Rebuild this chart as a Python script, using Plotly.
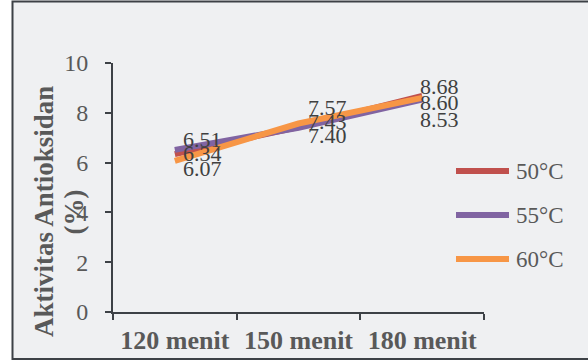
import plotly.graph_objects as go

# Extraction time categories and antioxidant activity (%) per drying temperature
categories = ["120 menit", "150 menit", "180 menit"]
series_names = ["50°C", "55°C", "60°C"]
values_50 = [6.34, 7.43, 8.68]
values_55 = [6.51, 7.40, 8.53]
values_60 = [6.07, 7.57, 8.60]
y_ticks = [0, 2, 4, 6, 8, 10]

series_values = [values_50, values_55, values_60]
colors = ["#c0504d", "#8064a2", "#f79646"]

# pixel geometry of the plotting area inside the 588x360 page
W, H = 588, 360
L, R, T, B = 113, 484, 63, 312
pw, ph = R - L, B - T


def px_x(px):
    return (px - L) / pw


def px_y(py):
    return (B - py) / ph


serif = "Liberation Serif"
tick_grey = "#595959"
label_grey = "#404040"
axis_dark = "#3d4146"

fig = go.Figure()
for name, vals, col in zip(series_names, series_values, colors):
    fig.add_trace(go.Scatter(
        x=categories, y=vals, mode="lines", name=name,
        line=dict(color=col, width=6), showlegend=False,
        hoverinfo="skip",
    ))

# value labels: per-category offsets (pixels) keep the stacked labels readable
label_shift = {
    (0, 0): (6, 1), (0, 1): (6, 10), (0, 2): (6, -8),
    (1, 0): (7, 5), (1, 1): (7, -8), (1, 2): (7, 16),
    (2, 0): (-4, 9), (2, 1): (-4, -20), (2, 2): (-4, -5),
}
annotations = []
for si, vals in enumerate(series_values):
    for ci, v in enumerate(vals):
        dx, dy = label_shift[(ci, si)]
        annotations.append(dict(
            x=categories[ci], y=v, xref="x", yref="y",
            text=f"{v:.2f}", showarrow=False,
            xanchor="left", yanchor="middle", xshift=dx, yshift=dy,
            font=dict(family=serif, size=22, color=label_grey),
        ))

# y-axis title, two rotated lines
annotations.append(dict(
    x=px_x(44), y=px_y(212), xref="paper", yref="paper",
    text="<b>Aktivitas Antioksidan</b>", textangle=-90, showarrow=False,
    xanchor="center", yanchor="middle",
    font=dict(family=serif, size=27, color=tick_grey),
))
annotations.append(dict(
    x=px_x(73.5), y=px_y(212), xref="paper", yref="paper",
    text="<b>(%)</b>", textangle=-90, showarrow=False,
    xanchor="center", yanchor="middle",
    font=dict(family=serif, size=27, color=tick_grey),
))

# chart frame and legend
shapes = [dict(
    type="rect", xref="paper", yref="paper",
    x0=px_x(12.5), x1=px_x(600), y0=px_y(359), y1=px_y(1.5),
    fillcolor="#eff0f2", line=dict(color=axis_dark, width=2), layer="below",
)]
legend_rows = [171, 215, 259]
for name, col, row in zip(series_names, colors, legend_rows):
    shapes.append(dict(
        type="line", xref="paper", yref="paper",
        x0=px_x(456), x1=px_x(509), y0=px_y(row), y1=px_y(row),
        line=dict(color=col, width=6),
    ))
    annotations.append(dict(
        x=px_x(514), y=px_y(row), xref="paper", yref="paper",
        text=name, showarrow=False, xanchor="left", yanchor="middle",
        font=dict(family=serif, size=23, color=tick_grey),
    ))

fig.update_layout(
    width=W, height=H,
    margin=dict(l=L, r=W - R, t=T, b=H - B, pad=0),
    paper_bgcolor="white", plot_bgcolor="rgba(0,0,0,0)",
    showlegend=False,
    shapes=shapes, annotations=annotations,
    xaxis=dict(
        type="category", range=[-0.5, 2.5], tickson="boundaries",
        automargin=False,
        showline=True, linecolor=axis_dark, linewidth=2,
        ticks="outside", ticklen=6, tickwidth=2, tickcolor=axis_dark,
        showgrid=False, zeroline=False, ticklabelstandoff=4,
        tickfont=dict(family=serif, size=26, color=tick_grey, weight="bold"),
    ),
    yaxis=dict(
        range=[0, 10], tickvals=y_ticks, automargin=False,
        showline=True, linecolor=axis_dark, linewidth=2,
        ticks="outside", ticklen=6, tickwidth=2, tickcolor=axis_dark,
        showgrid=False, zeroline=False, ticklabelstandoff=12,
        tickfont=dict(family=serif, size=24, color=tick_grey),
    ),
)

fig.write_html("out.html")
